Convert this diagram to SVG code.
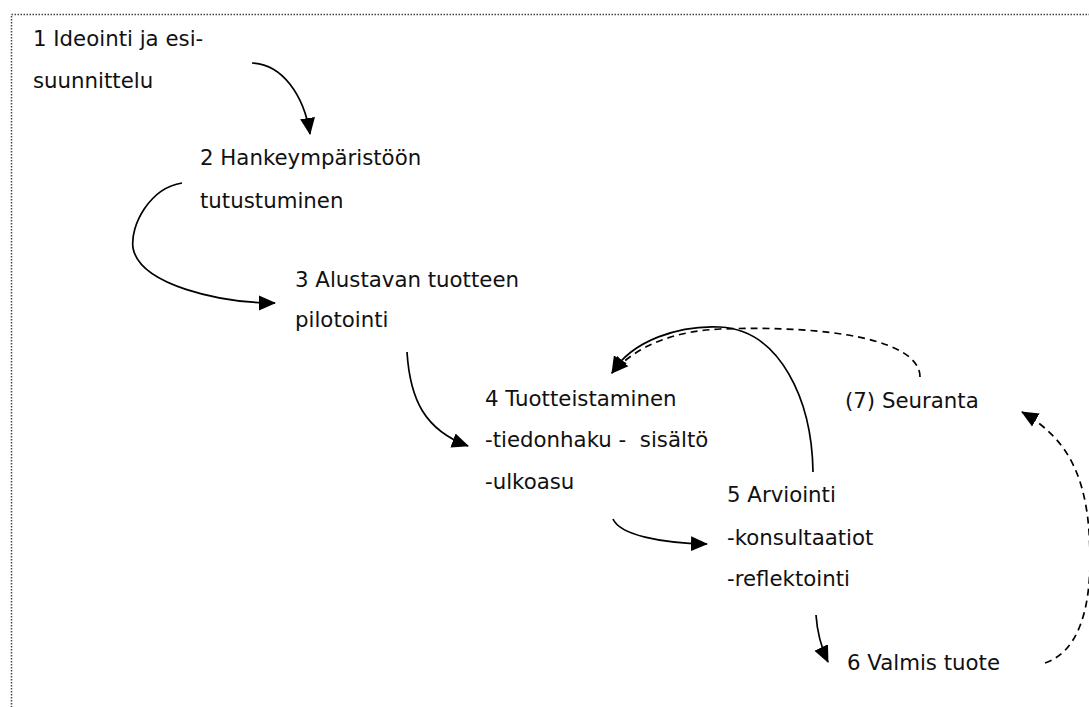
<svg xmlns="http://www.w3.org/2000/svg" width="1089" height="707" viewBox="0 0 1089 707">
<style>
.t{font-family:"DejaVu Sans",Verdana,sans-serif;font-size:21.3px;fill:#111}
.c{fill:none;stroke:#000;stroke-width:1.7}
.d{stroke-dasharray:7,5}
</style>
<defs>
<marker id="ah" markerUnits="userSpaceOnUse" markerWidth="18" markerHeight="16" refX="16" refY="7.5" orient="auto" viewBox="0 0 18 15">
<path d="M0,0 L17,7.5 L0,15 Z" fill="#000"/>
</marker>
</defs>
<rect x="11.5" y="14.5" width="1090" height="710" fill="none" stroke="#444" stroke-width="1.5" stroke-dasharray="1.5,1.5"/>
<g id="n1"><text class="t" x="33" y="46">1 Ideointi ja esi-</text><text class="t" x="33" y="88">suunnittelu</text></g>
<g id="n2"><text class="t" x="200" y="165">2 Hankeympäristöön</text><text class="t" x="200" y="208">tutustuminen</text></g>
<g id="n3"><text class="t" x="295" y="287">3 Alustavan tuotteen</text><text class="t" x="295" y="327">pilotointi</text></g>
<g id="n4"><text class="t" x="485" y="406">4 Tuotteistaminen</text><text class="t" x="485" y="447" xml:space="preserve">-tiedonhaku -  sisältö</text><text class="t" x="485" y="489">-ulkoasu</text></g>
<g id="n5"><text class="t" x="727" y="502">5 Arviointi</text><text class="t" x="727" y="545">-konsultaatiot</text><text class="t" x="727" y="586">-reflektointi</text></g>
<g id="n6"><text class="t" x="847" y="670">6 Valmis tuote</text></g>
<g id="n7"><text class="t" x="845" y="408">(7) Seuranta</text></g>
<g id="connectors">
<path class="c" marker-end="url(#ah)" d="M252,63 C282,64 304,95 310,134"/>
<path class="c" marker-end="url(#ah)" d="M182,183 C150,188 130,225 133,248 C140,285 220,303 275,303"/>
<path class="c" marker-end="url(#ah)" d="M407,352 C410,400 425,430 468,446"/>
<path class="c" marker-end="url(#ah)" d="M613,519 C620,535 660,543 707,544"/>
<path class="c" marker-end="url(#ah)" d="M813,472 C812,400 780,330 720,327 C680,325 632,340 612,373"/>
<path class="c d" marker-end="url(#ah)" d="M920,377 C920,340 830,325 720,329 C680,331 640,342 612,373"/>
<path class="c" marker-end="url(#ah)" d="M816,615 C817,630 820,645 828,662"/>
<path class="c d" marker-end="url(#ah)" d="M1045,663 C1078,652 1090,610 1090,560 C1090,480 1070,440 1022,412"/>
</g>
</svg>
